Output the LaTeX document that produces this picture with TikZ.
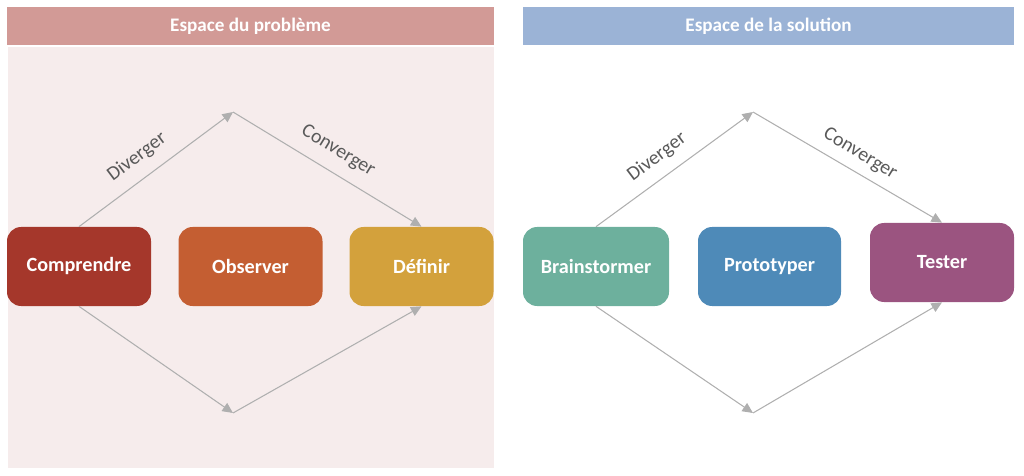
\documentclass[tikz,border=0pt]{standalone}
\usepackage{fontspec}
\setmainfont{Carlito}
\usetikzlibrary{arrows.meta}
\definecolor{hdrL}{HTML}{D29A96}
\definecolor{bgL}{HTML}{F6ECEC}
\definecolor{hdrR}{HTML}{9BB3D6}
\definecolor{cComp}{HTML}{A5372B}
\definecolor{cObs}{HTML}{C45E32}
\definecolor{cDef}{HTML}{D3A13C}
\definecolor{cBrain}{HTML}{6DB09D}
\definecolor{cProto}{HTML}{4E8AB8}
\definecolor{cTest}{HTML}{9B5480}
\definecolor{arrowgray}{HTML}{AFAFAF}
\definecolor{labgray}{HTML}{595959}
\tikzset{
  stepbox/.style={rounded corners=8pt, minimum width=144*0.02cm, minimum height=79*0.02cm,
    text=white, font=\fontsize{11.5pt}{13pt}\selectfont\bfseries, inner sep=0pt},
  header/.style={minimum height=38*0.02cm, text=white, font=\fontsize{10.9pt}{13pt}\selectfont\bfseries, inner sep=0pt},
  flow/.style={draw=arrowgray, line width=0.6pt, -{Triangle[length=6pt,width=5.5pt]}},
  lab/.style={text=labgray, font=\fontsize{11.3pt}{13pt}\selectfont, inner sep=0pt}
}
\begin{document}
\begin{tikzpicture}[x=0.02cm,y=-0.02cm]
\useasboundingbox (0,0) rectangle (1024,476);
% backgrounds
\fill[bgL] (8,47) rectangle (494,468);
\node[header, fill=hdrL, minimum width=487*0.02cm] (hl) at (250.5,26) {Espace du problème};
\node[header, fill=hdrR, minimum width=491*0.02cm] (hr) at (768.5,26) {Espace de la solution};
% boxes
\node[stepbox, fill=cComp] (comp) at (79,266.5) {Comprendre};
\node[stepbox, fill=cObs] (obs) at (250.5,266.5) {Observer};
\node[stepbox, fill=cDef] (def) at (421.5,266.5) {Définir};
\node[stepbox, fill=cBrain, minimum width=146*0.02cm] (brain) at (596,266.5) {Brainstormer};
\node[stepbox, fill=cProto, minimum width=143*0.02cm] (proto) at (769.5,266.5) {Prototyper};
\node[stepbox, fill=cTest] (test) at (942,262.5) {Tester};
% apex points
\coordinate (lt) at (233,112);
\coordinate (lb) at (233,413);
\coordinate (rt) at (753,112);
\coordinate (rb) at (753,413);
% left connectors
\draw[flow] (comp.north) -- (lt);
\draw[flow] (lt) -- (def.north);
\draw[flow] (comp.south) -- (lb);
\draw[flow] (lb) -- (def.south);
% right connectors
\draw[flow] (brain.north) -- (rt);
\draw[flow] (rt) -- (test.north);
\draw[flow] (brain.south) -- (rb);
\draw[flow] (rb) -- (test.south);
% labels
\node[lab, rotate=36.7] (d1) at (137,157) {Diverger};
\node[lab, rotate=-31.5] (c1) at (338,151) {Converger};
\node[lab, rotate=36.9] (d2) at (657,157) {Diverger};
\node[lab, rotate=-31.5] (c2) at (860,154) {Converger};
\end{tikzpicture}
\end{document}
